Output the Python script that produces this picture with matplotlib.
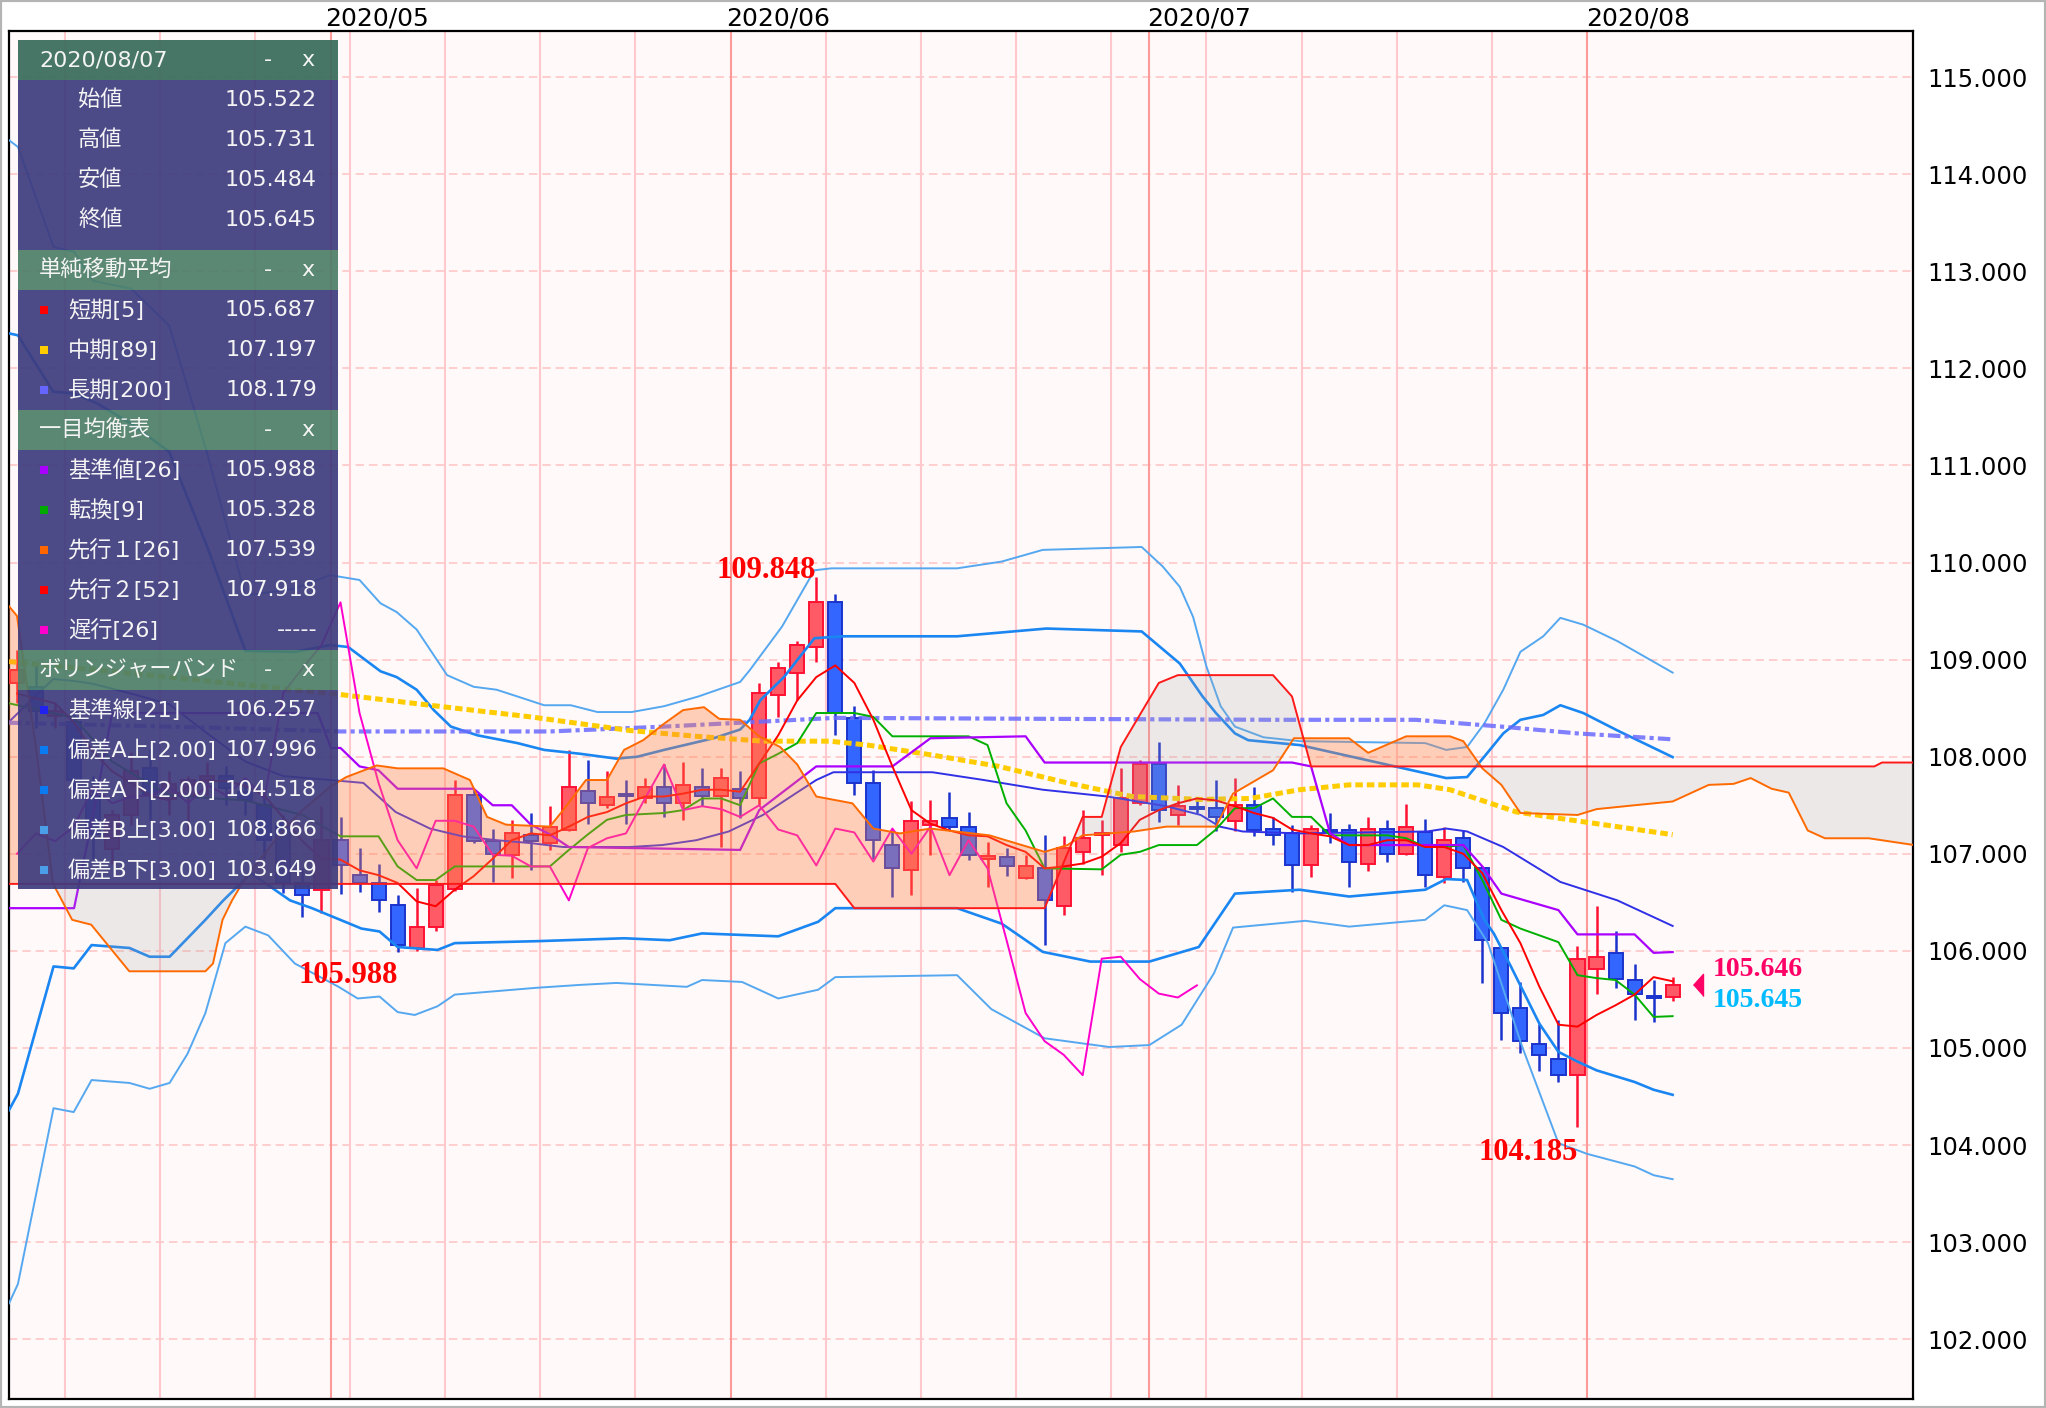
"""
USD/JPY daily chart, 2020/04/08 - 2020/08/07, with SMA, Ichimoku and Bollinger bands.
"""
import numpy as np
import matplotlib.pyplot as plt
from matplotlib.patches import Rectangle

# candles, one per trading day (index 0 = 2020/04/08, 87 = 2020/08/07)
opens = [108.76, 108.72, 108.42, 108.36, 107.60, 107.05, 107.40, 107.88, 107.56, 107.60,
         107.76, 107.80, 107.64, 107.50, 107.31, 106.70, 106.63, 107.14, 106.78, 106.70,
         106.47, 106.03, 106.25, 106.64, 107.61, 107.13, 106.99, 107.19, 107.11, 107.25,
         107.65, 107.50, 107.62, 107.57, 107.69, 107.52, 107.69, 107.60, 107.67, 107.57,
         108.64, 108.86, 109.13, 109.59, 108.40, 107.73, 107.09, 106.83, 107.30, 107.37,
         107.28, 106.95, 106.97, 106.75, 106.85, 106.46, 107.02, 107.19, 107.09, 107.52,
         107.92, 107.40, 107.48, 107.47, 107.34, 107.50, 107.26, 107.21, 106.88, 107.25,
         107.24, 106.90, 107.26, 107.00, 107.22, 106.76, 107.16, 106.85, 106.03, 105.41,
         105.04, 104.89, 104.72, 105.81, 105.98, 105.70, 105.53, 105.522]
highs = [109.10, 108.95, 108.55, 108.50, 107.80, 107.45, 108.05, 108.08, 107.85, 107.80,
         107.95, 107.90, 107.75, 107.60, 107.40, 106.85, 107.49, 107.38, 107.06, 106.89,
         106.58, 106.65, 106.73, 107.76, 107.67, 107.26, 107.35, 107.42, 107.49, 108.07,
         107.97, 107.85, 107.76, 107.78, 107.92, 107.95, 107.88, 107.88, 107.85, 108.76,
         108.98, 109.19, 109.848, 109.68, 108.52, 107.86, 107.25, 107.54, 107.55, 107.64,
         107.43, 107.12, 107.06, 106.99, 107.19, 107.18, 107.45, 107.35, 107.88, 107.97,
         108.15, 107.71, 107.57, 107.76, 107.78, 107.69, 107.38, 107.30, 107.30, 107.42,
         107.31, 107.38, 107.35, 107.51, 107.36, 107.28, 107.25, 106.87, 106.04, 105.68,
         105.25, 105.29, 106.05, 106.46, 106.20, 105.86, 105.70, 105.731]
lows = [108.55, 108.30, 108.30, 107.60, 106.95, 106.90, 107.30, 107.35, 107.40, 107.25,
        107.60, 107.50, 107.40, 106.95, 106.60, 106.35, 106.39, 106.59, 106.61, 106.40,
        105.988, 106.00, 106.20, 106.62, 107.11, 106.71, 106.75, 106.83, 107.04, 107.23,
        107.31, 107.47, 107.31, 107.52, 107.38, 107.35, 107.49, 107.07, 107.37, 107.50,
        108.41, 108.58, 108.98, 108.22, 107.61, 106.95, 106.56, 106.58, 106.99, 107.25,
        106.94, 106.66, 106.77, 106.74, 106.06, 106.37, 106.89, 106.78, 107.02, 107.50,
        107.33, 107.30, 107.42, 107.23, 107.23, 107.18, 107.09, 106.61, 106.76, 107.11,
        106.66, 106.82, 106.92, 106.99, 106.66, 106.70, 106.71, 105.67, 105.08, 104.95,
        104.76, 104.65, 104.185, 105.56, 105.62, 105.29, 105.27, 105.484]
closes = [108.89, 108.47, 108.47, 107.76, 107.20, 107.40, 107.85, 107.62, 107.72, 107.76,
          107.80, 107.68, 107.55, 107.14, 106.70, 106.58, 107.14, 106.88, 106.70, 106.52,
          106.06, 106.25, 106.68, 107.61, 107.13, 107.00, 107.21, 107.13, 107.28, 107.69,
          107.52, 107.59, 107.60, 107.69, 107.52, 107.71, 107.60, 107.78, 107.57, 108.66,
          108.91, 109.15, 109.59, 108.45, 107.73, 107.14, 106.85, 107.34, 107.34, 107.28,
          106.99, 106.98, 106.87, 106.87, 106.52, 107.06, 107.16, 107.21, 107.57, 107.92,
          107.45, 107.49, 107.46, 107.38, 107.50, 107.25, 107.19, 106.88, 107.26, 107.22,
          106.92, 107.26, 107.00, 107.28, 106.78, 107.14, 106.85, 106.11, 105.36, 105.07,
          104.93, 104.72, 105.92, 105.94, 105.71, 105.56, 105.52, 105.645]

# SMA 5 (one value per candle)
sma5 = [108.65, 108.60, 108.55, 108.35, 108.05, 107.85, 107.73, 107.60, 107.55, 107.70,
        107.75, 107.75, 107.70, 107.60, 107.37, 107.13, 106.95, 106.94, 106.83, 106.78,
        106.70, 106.51, 106.46, 106.63, 106.77, 106.95, 107.14, 107.21, 107.19, 107.28,
        107.38, 107.43, 107.52, 107.59, 107.59, 107.62, 107.66, 107.66, 107.64, 107.93,
        108.22, 108.58, 108.82, 108.94, 108.76, 108.38, 107.90, 107.45, 107.31, 107.24,
        107.19, 107.18, 107.09, 107.02, 106.85, 106.87, 106.90, 106.97, 107.11, 107.35,
        107.45, 107.52, 107.57, 107.55, 107.49, 107.42, 107.37, 107.25, 107.21, 107.18,
        107.09, 107.09, 107.14, 107.14, 107.07, 107.07, 107.00, 106.80, 106.42, 106.08,
        105.63, 105.24, 105.22, 105.34, 105.44, 105.55, 105.73, 105.687]

# SMA 89 / SMA 200 (vertices)
sma89_x = [-0.42, 8, 17, 21.7, 27, 32.2, 35.7, 39.2, 42.7, 44.7, 48, 51.6, 55.2, 58.6,
           62.2, 64.8, 67.4, 70, 73.6, 75.3, 78.8, 82.3, 87]
sma89_y = [108.98, 108.82, 108.64, 108.53, 108.41, 108.27, 108.21, 108.16, 108.16, 108.12,
           108.02, 107.90, 107.73, 107.59, 107.56, 107.57, 107.66, 107.71, 107.71, 107.66,
           107.43, 107.33, 107.197]
sma200_x = [-0.42, 10, 17, 28, 34, 38, 43, 54, 66, 73.5, 78, 82, 87]
sma200_y = [108.35, 108.30, 108.26, 108.26, 108.31, 108.35, 108.40, 108.39, 108.38, 108.38,
            108.31, 108.24, 108.179]

# Ichimoku
tenkan_x = [-0.42, 3, 5, 8, 12, 15, 17, 19, 20, 21, 22, 23, 28, 29, 30, 31, 32, 34, 35, 36,
            37, 38, 39, 40, 41, 42, 44, 45, 46, 50, 51, 52, 53, 54, 57, 58, 59, 60, 62, 63,
            64, 65, 66, 67, 68, 69, 72, 73, 74, 75, 76, 77, 78, 79, 81, 82, 83, 84, 85, 86, 87]
tenkan_y = [108.55, 108.40, 107.95, 107.60, 107.55, 107.40, 107.18, 107.18, 106.87, 106.73,
            106.73, 106.87, 106.87, 107.04, 107.20, 107.35, 107.40, 107.42, 107.45, 107.57,
            107.57, 107.50, 107.93, 108.03, 108.14, 108.45, 108.45, 108.41, 108.21, 108.21,
            108.12, 107.52, 107.24, 106.85, 106.84, 106.99, 107.02, 107.09, 107.09, 107.25,
            107.47, 107.47, 107.57, 107.38, 107.38, 107.19, 107.19, 107.16, 107.07, 107.07,
            107.09, 106.73, 106.32, 106.23, 106.09, 105.75, 105.72, 105.70, 105.55, 105.32,
            105.328]
kijun_x = [-0.42, 3, 4, 5, 15.8, 16.5, 17, 18, 19, 20, 24, 25, 26, 27, 28, 29, 38, 39, 42,
           46, 48, 53, 54, 67, 68, 69, 70, 76, 77, 78, 81, 82, 85, 86, 87]
kijun_y = [106.44, 106.44, 107.40, 108.45, 108.45, 108.09, 108.09, 107.90, 107.86, 107.67,
           107.67, 107.50, 107.50, 107.30, 107.20, 107.07, 107.04, 107.45, 107.90, 107.90,
           108.19, 108.21, 107.94, 107.94, 107.90, 107.21, 107.09, 107.09, 106.87, 106.59,
           106.42, 106.17, 106.17, 105.98, 105.988]
senkou_a_x = [-0.42, 0, 1, 1.9, 2.9, 3.9, 5.9, 9.9, 10.3, 10.8, 11.3, 12, 13, 14, 15, 16.45,
              17.3, 18.9, 20, 22.4, 23.8, 24.7, 25.7, 28, 28.7, 29.9, 31, 31.9, 32.9, 34, 35,
              36.1, 36.9, 38, 39, 40.1, 41, 42, 43.9, 45, 46.4, 48, 51.1, 54, 55.2, 56, 58.7,
              60.4, 63, 63.9, 66, 67.1, 70, 71, 73, 75.3, 76, 77, 78, 79, 82, 83, 85, 87,
              88.9, 90.2, 91.1, 92.2, 93.1, 94.1, 95, 97.3, 99.7]
senkou_a_y = [109.55, 109.45, 108.10, 106.69, 106.32, 106.27, 105.79, 105.79, 105.87, 106.32,
              106.52, 106.75, 107.00, 107.25, 107.45, 107.69, 107.79, 107.91, 107.88, 107.88,
              107.76, 107.38, 107.30, 107.28, 107.45, 107.76, 107.76, 108.07, 108.17, 108.34,
              108.48, 108.51, 108.39, 108.38, 108.21, 108.10, 107.92, 107.59, 107.52, 107.26,
              107.21, 107.26, 107.19, 107.02, 107.09, 107.19, 107.23, 107.28, 107.28, 107.62,
              107.86, 108.19, 108.19, 108.04, 108.21, 108.21, 108.16, 107.88, 107.71, 107.42,
              107.40, 107.46, 107.50, 107.539, 107.71, 107.72, 107.78, 107.67, 107.63, 107.24,
              107.16, 107.16, 107.09]
senkou_b_x = [-0.42, 43, 44, 54, 56, 57, 58, 60, 61, 66, 67, 68, 97.6, 98, 99.7]
senkou_b_y = [106.69, 106.69, 106.44, 106.44, 107.38, 107.38, 108.10, 108.76, 108.84, 108.84,
              108.62, 107.90, 107.90, 107.94, 107.94]
chikou_shift = 25

# Bollinger bands (21)
bb_mid_x = [-0.42, 1.9, 3, 4, 6, 8, 10, 12, 14, 16.45, 18.2, 19.9, 21.7, 23.4, 25.2, 27,
            28.7, 32.2, 33.9, 35.7, 37.4, 39.2, 40.9, 42, 42.9, 48.1, 50.8, 53.9, 57.3, 60.4,
            62.2, 63.2, 64.4, 67.4, 74.1, 75.1, 76.2, 78.1, 81.1, 84.1, 87]
bb_mid_y = [108.36, 108.80, 108.78, 108.75, 108.65, 108.54, 108.24, 107.95, 107.80, 107.76,
            107.73, 107.43, 107.26, 107.18, 107.14, 107.11, 107.07, 107.07, 107.09, 107.14,
            107.23, 107.40, 107.62, 107.76, 107.84, 107.84, 107.76, 107.66, 107.59, 107.49,
            107.40, 107.28, 107.23, 107.21, 107.23, 107.26, 107.23, 107.07, 106.71, 106.52,
            106.257]
bb2_up_x = [-0.42, 0.05, 1.9, 3, 4.2, 6, 8, 10, 12, 14.6, 16.45, 17.4, 19.1, 19.95, 21, 21.9,
            22.8, 24.2, 26.3, 27.7, 29.6, 31.5, 32.6, 34, 36.6, 38, 38.5, 39.05, 40.3, 41.9,
            43.4, 49.4, 54.1, 59.1, 61.1, 62.3, 63, 64, 64.7, 67.4, 74, 75.1, 76.2, 77.1,
            78.1, 79, 80.2, 81.1, 82.3, 84.1, 87]
bb2_up_y = [112.36, 112.34, 111.76, 111.74, 111.64, 111.43, 111.14, 110.16, 109.09, 109.08,
            109.15, 109.13, 108.88, 108.82, 108.69, 108.48, 108.31, 108.22, 108.14, 108.07,
            108.03, 107.98, 108.00, 108.07, 108.19, 108.28, 108.38, 108.58, 108.82, 109.22,
            109.24, 109.24, 109.32, 109.29, 108.96, 108.62, 108.45, 108.24, 108.17, 108.12,
            107.83, 107.78, 107.79, 108.00, 108.24, 108.38, 108.43, 108.53, 108.45, 108.27,
            107.996]
bb2_dn_x = [-0.42, 0.05, 1.92, 2.98, 3.92, 5.91, 6.97, 8.02, 9.9, 10.84, 12.3, 14.35, 15.5,
            18.1, 19.05, 20, 22.1, 23, 27.3, 31.9, 34.3, 36, 40, 42.1, 43, 49.4, 51.75, 53.9,
            56.4, 59.5, 62.1, 64, 67.4, 70, 74, 75.1, 76.2, 77.1, 77.6, 78.5, 80, 81, 82, 83,
            85, 86, 87]
bb2_dn_y = [104.36, 104.53, 105.84, 105.82, 106.06, 106.03, 105.94, 105.94, 106.32, 106.52,
            106.80, 106.52, 106.44, 106.23, 106.20, 106.04, 106.01, 106.08, 106.10, 106.13,
            106.11, 106.18, 106.15, 106.30, 106.44, 106.44, 106.28, 105.99, 105.89, 105.89,
            106.04, 106.59, 106.63, 106.56, 106.63, 106.74, 106.73, 106.32, 106.18, 105.84,
            105.25, 104.96, 104.86, 104.77, 104.65, 104.57, 104.518]
bb3_up_x = [-0.42, 0.05, 1.92, 3, 4, 6, 8, 10, 12, 14.6, 16.45, 18, 19.1, 19.95, 21, 22.6, 24,
            25.2, 26.3, 27.7, 29.1, 30.5, 32.3, 34, 35.8, 38, 38.5, 40.2, 41.9, 42.8, 49.4,
            51.75, 53.9, 59.1, 60.2, 61.1, 61.8, 62.5, 63.25, 64, 65.5, 67.4, 74, 75.1, 76.2,
            77.1, 78.1, 79, 80.2, 81.1, 82.3, 84.1, 87]
bb3_up_y = [114.35, 114.28, 113.25, 113.20, 112.90, 112.82, 112.44, 111.12, 109.66, 109.73,
            109.87, 109.82, 109.58, 109.49, 109.31, 108.84, 108.72, 108.69, 108.62, 108.53,
            108.53, 108.46, 108.46, 108.52, 108.62, 108.77, 108.89, 109.34, 109.92, 109.94,
            109.94, 110.01, 110.13, 110.16, 109.96, 109.75, 109.44, 108.93, 108.52, 108.31,
            108.20, 108.16, 108.14, 108.07, 108.10, 108.34, 108.69, 109.08, 109.24, 109.43,
            109.36, 109.19, 108.866]
bb3_dn_x = [-0.42, 0.05, 1.92, 2.98, 3.92, 5.91, 6.97, 8.02, 8.96, 9.9, 10.95, 12.0, 13.2,
            14.6, 16.9, 17.9, 19.05, 20, 20.9, 22.1, 23, 27.3, 29.6, 31.5, 35.2, 36, 38.1, 40,
            42.1, 43, 49.4, 51.2, 54, 57.4, 59.5, 61.2, 62.9, 63.9, 67.7, 70, 74, 75, 76.2,
            77.3, 79.1, 81, 82.5, 85, 86, 87]
bb3_dn_y = [102.37, 102.57, 104.38, 104.34, 104.67, 104.64, 104.58, 104.64, 104.94, 105.36,
            106.08, 106.25, 106.16, 105.87, 105.63, 105.51, 105.53, 105.37, 105.34, 105.43,
            105.55, 105.62, 105.65, 105.67, 105.63, 105.70, 105.68, 105.51, 105.60, 105.73,
            105.75, 105.40, 105.10, 105.01, 105.03, 105.24, 105.77, 106.24, 106.31, 106.25,
            106.32, 106.47, 106.42, 106.08, 105.01, 104.02, 103.91, 103.78, 103.69, 103.649]

# calendar grid (between Friday/Monday and month ends) and month labels
week_lines = [2.5, 7.5, 12.5, 17.5, 22.5, 27.5, 32.5, 42.5, 47.5, 52.5, 57.5, 62.5, 67.5,
              72.5, 77.5]
month_lines = [16.5, 37.5, 59.5, 82.5]
month_labels = ['2020/05', '2020/06', '2020/07', '2020/08']
month_label_x = [18.9, 40.0, 62.1, 85.2]
y_ticks = list(range(102, 116))

# info panel content
panel_date = '2020/08/07'
ohlc_rows = [('始値', '105.522'), ('高値', '105.731'), ('安値', '105.484'), ('終値', '105.645')]
sma_rows = [('#FF0000', '短期[5]', '105.687'), ('#FFCC00', '中期[89]', '107.197'),
            ('#6666FF', '長期[200]', '108.179')]
ichi_rows = [('#AA00FF', '基準値[26]', '105.988'), ('#00AA00', '転換[9]', '105.328'),
             ('#FF6600', '先行１[26]', '107.539'), ('#FF0000', '先行２[52]', '107.918'),
             ('#FF00CC', '遅行[26]', '-----')]
bb_rows = [('#2222EE', '基準線[21]', '106.257'), ('#0A7BF0', '偏差A上[2.00]', '107.996'),
           ('#0A7BF0', '偏差A下[2.00]', '104.518'), ('#4A9FE8', '偏差B上[3.00]', '108.866'),
           ('#4A9FE8', '偏差B下[3.00]', '103.649')]

plt.rcParams['font.family'] = ['DejaVu Sans']
fig = plt.figure(figsize=(20.46, 14.08), dpi=100)
ax = fig.add_axes([9 / 2046, 1 - 1399 / 1408, (1913 - 9) / 2046, (1399 - 31) / 1408])
ax.set_facecolor('#FFF9F9')
ax.set_xlim(-0.42, 99.63)
ax.set_ylim(101.385, 115.474)

for y in y_ticks:
    ax.axhline(y, color='#FFC6C6', lw=1.2, ls=(0, (5, 3)), zorder=0.5)
for x in week_lines:
    ax.axvline(x, color='#FFC8CC', lw=1.5, zorder=0.6)
for x in month_lines:
    ax.axvline(x, color='#FF9A9A', lw=1.5, zorder=0.6)

# candles
n = len(closes)
idx = np.arange(n)
w = 0.74
for i in range(n):
    o, h, l, c = opens[i], highs[i], lows[i], closes[i]
    up = c >= o
    edge = '#FF1133' if up else '#1B33CC'
    face = '#FF5A66' if up else '#3366FF'
    ax.vlines(i, l, h, color=edge, lw=1.8, zorder=3)
    ax.add_patch(Rectangle((i - w / 2, min(o, c)), w, max(abs(c - o), 0.012),
                           facecolor=face, edgecolor=edge, lw=1.4, zorder=3.1))

# bollinger
ax.plot(bb3_up_x, bb3_up_y, color='#55A8F0', lw=1.4, zorder=3.5)
ax.plot(bb3_dn_x, bb3_dn_y, color='#55A8F0', lw=1.4, zorder=3.5)
ax.plot(bb2_up_x, bb2_up_y, color='#1A86F2', lw=1.9, zorder=3.5)
ax.plot(bb2_dn_x, bb2_dn_y, color='#1A86F2', lw=1.9, zorder=3.5)
ax.plot(bb_mid_x, bb_mid_y, color='#3030E6', lw=1.4, zorder=3.5)

# moving averages
ax.plot(sma200_x, sma200_y, color='#6A6AFF', lw=3.0, alpha=0.85,
        ls=(0, (3, 1, 1, 1)), zorder=3.6)
ax.plot(sma89_x, sma89_y, color='#FFCC00', lw=3.6, ls=(0, (1.5, 0.8)), zorder=3.6)
ax.plot(idx, sma5, color='#FF0000', lw=1.4, zorder=3.7)

# ichimoku lines
ax.plot(tenkan_x, tenkan_y, color='#00B000', lw=1.4, zorder=3.6)
ax.plot(kijun_x, kijun_y, color='#AA00FF', lw=1.6, zorder=3.6)
ax.plot(idx[chikou_shift:] - chikou_shift, closes[chikou_shift:], color='#FF00CC',
        lw=1.4, zorder=3.6)

# cloud on top (translucent)
gx = np.union1d(senkou_a_x, senkou_b_x)
ga = np.interp(gx, senkou_a_x, senkou_a_y)
gb = np.interp(gx, senkou_b_x, senkou_b_y)
ax.fill_between(gx, ga, gb, where=ga >= gb, interpolate=True, color='#FF8040',
                alpha=0.35, lw=0, zorder=4)
ax.fill_between(gx, ga, gb, where=ga < gb, interpolate=True, color='#A8A4A4',
                alpha=0.2, lw=0, zorder=4)
ax.plot(senkou_a_x, senkou_a_y, color='#FF6A00', lw=1.4, zorder=4.5)
ax.plot(senkou_b_x, senkou_b_y, color='#FF1A1A', lw=1.4, zorder=4.5)

# high / low marks
hi_i = int(np.argmax(highs))
lo_i = int(np.argmin(lows))
lo2_i = int(np.argmin(lows[:40]))
mark_font = dict(family='Liberation Serif', weight='bold', size=22, color='#FF0000', zorder=6)
ax.text(hi_i, highs[hi_i] - 0.01, f'{highs[hi_i]:.3f}', ha='right', va='baseline', **mark_font)
ax.text(lo2_i, lows[lo2_i] - 0.32, f'{lows[lo2_i]:.3f}', ha='right', va='baseline', **mark_font)
ax.text(lo_i, lows[lo_i] - 0.34, f'{lows[lo_i]:.3f}', ha='right', va='baseline', **mark_font)

# current price marker
ax.plot([88.35], [closes[-1]], marker=[(-0.45, 0), (0.45, 1), (0.45, -1)], ms=16,
        color='#FF0066', zorder=6, clip_on=False)
ax.text(89.1, 105.81, '105.646', ha='left', va='center', family='Liberation Serif',
        weight='bold', size=20, color='#FF0066', zorder=6)
ax.text(89.1, 105.49, '105.645', ha='left', va='center', family='Liberation Serif',
        weight='bold', size=20, color='#00BBFF', zorder=6)

# axes decorations
ax.set_xticks([])
ax.yaxis.tick_right()
ax.set_yticks(y_ticks)
ax.set_yticklabels([f'{v:.3f}' for v in y_ticks], fontsize=17.5)
ax.tick_params(axis='y', length=0, pad=10)
for s in ax.spines.values():
    s.set_color('black')
    s.set_linewidth(1.6)
for x, lab in zip(month_label_x, month_labels):
    ax.text(x, 1.0088, lab, transform=ax.get_xaxis_transform(), ha='center', va='center',
            fontsize=18, clip_on=False)

fig.patches.append(Rectangle((0, 0), 1, 1, transform=fig.transFigure, fill=False,
                             edgecolor='#B4B4B4', lw=3))

# info panel (pixel coordinates inside its own axes)
pax = fig.add_axes([18 / 2046, 1 - 889 / 1408, 320 / 2046, 849 / 1408])
pax.set_zorder(10)
pax.set_xlim(0, 320)
pax.set_ylim(849, 0)
pax.axis('off')
pfont = dict(family=['DejaVu Sans', 'Noto Sans CJK JP'], color='#F4F4F4', fontsize=16,
             va='center')
row_c = '#3E3B7E'
head_c = '#4C7E68'


def header(y0, title, color):
    pax.add_patch(Rectangle((0, y0), 320, 40, facecolor=color, alpha=0.92, lw=0))
    pax.text(21, y0 + 20, title, ha='left', **pfont)
    pax.text(250, y0 + 20, '-', ha='center', **pfont)
    pax.text(290, y0 + 20, 'x', ha='center', **pfont)


def rows(y0, items, height):
    pax.add_patch(Rectangle((0, y0), 320, height, facecolor=row_c, alpha=0.92, lw=0))
    for k, (col, lab, val) in enumerate(items):
        yc = y0 + 20 + 40 * k
        pax.add_patch(Rectangle((22, yc - 4), 8, 8, facecolor=col, lw=0))
        pax.text(50, yc, lab, ha='left', **pfont)
        pax.text(299, yc, val, ha='right', **pfont)


header(0, panel_date, '#376B5B')
pax.add_patch(Rectangle((0, 40), 320, 170, facecolor=row_c, alpha=0.92, lw=0))
for k, (lab, val) in enumerate(ohlc_rows):
    pax.text(60, 60 + 40 * k, lab, ha='left', **pfont)
    pax.text(299, 60 + 40 * k, val, ha='right', **pfont)
header(210, '単純移動平均', head_c)
rows(250, sma_rows, 120)
header(370, '一目均衡表', head_c)
rows(410, ichi_rows, 200)
header(610, 'ボリンジャーバンド', head_c)
rows(650, bb_rows, 199)

fig.savefig('out.png', dpi=100)
